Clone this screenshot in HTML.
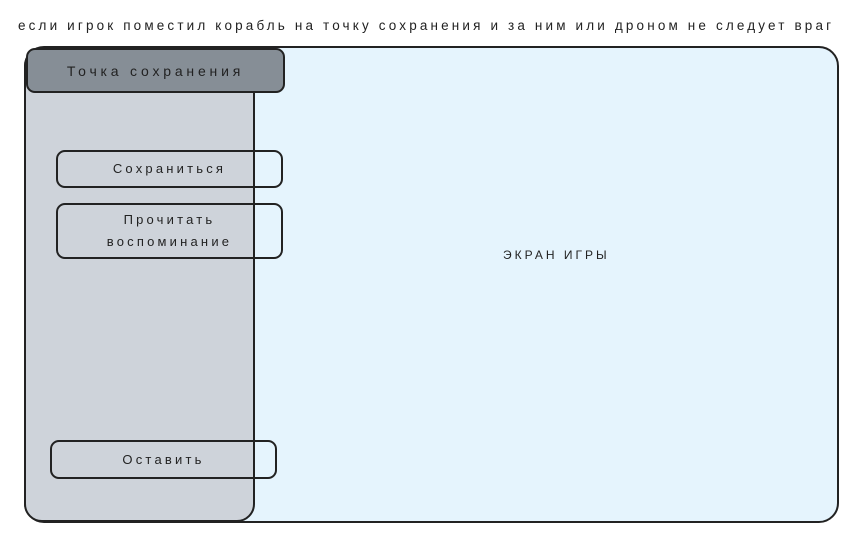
<!DOCTYPE html>
<html><head><meta charset="utf-8"><style>
body{margin:0;width:856px;height:544px;background:#fff;position:relative;overflow:hidden;font-family:"Liberation Sans",sans-serif;color:#222}
div{position:absolute;box-sizing:border-box}
.t{font-size:13px;white-space:nowrap}
.b{border:2px solid #222;border-radius:9px;display:flex;align-items:center;justify-content:center;text-align:center;font-size:13px;line-height:22px;letter-spacing:3.2px}
</style></head><body>
<div class="t" style="left:18px;top:18px;font-size:13.5px;letter-spacing:3.15px">если игрок поместил корабль на точку сохранения и за ним или дроном не следует враг</div>
<div style="left:24px;top:46px;width:815px;height:477px;background:#e5f4fd;border:2px solid #222;border-radius:20px"></div>
<div style="left:24px;top:48px;width:231px;height:474px;background:#ced3da;border:2px solid #222;border-radius:18px"></div>
<div class="b" style="left:26px;top:48px;width:259px;height:45px;background:#868e96;font-size:14px;letter-spacing:3.8px">Точка сохранения</div>
<div class="b" style="left:56px;top:150px;width:227px;height:38px">Сохраниться</div>
<div class="b" style="left:56px;top:203px;width:227px;height:56px">Прочитать<br>воспоминание</div>
<div class="b" style="left:50px;top:440px;width:227px;height:39px">Оставить</div>
<div class="t" style="left:503px;top:248px;font-size:12px;letter-spacing:3px">ЭКРАН ИГРЫ</div>
</body></html>
